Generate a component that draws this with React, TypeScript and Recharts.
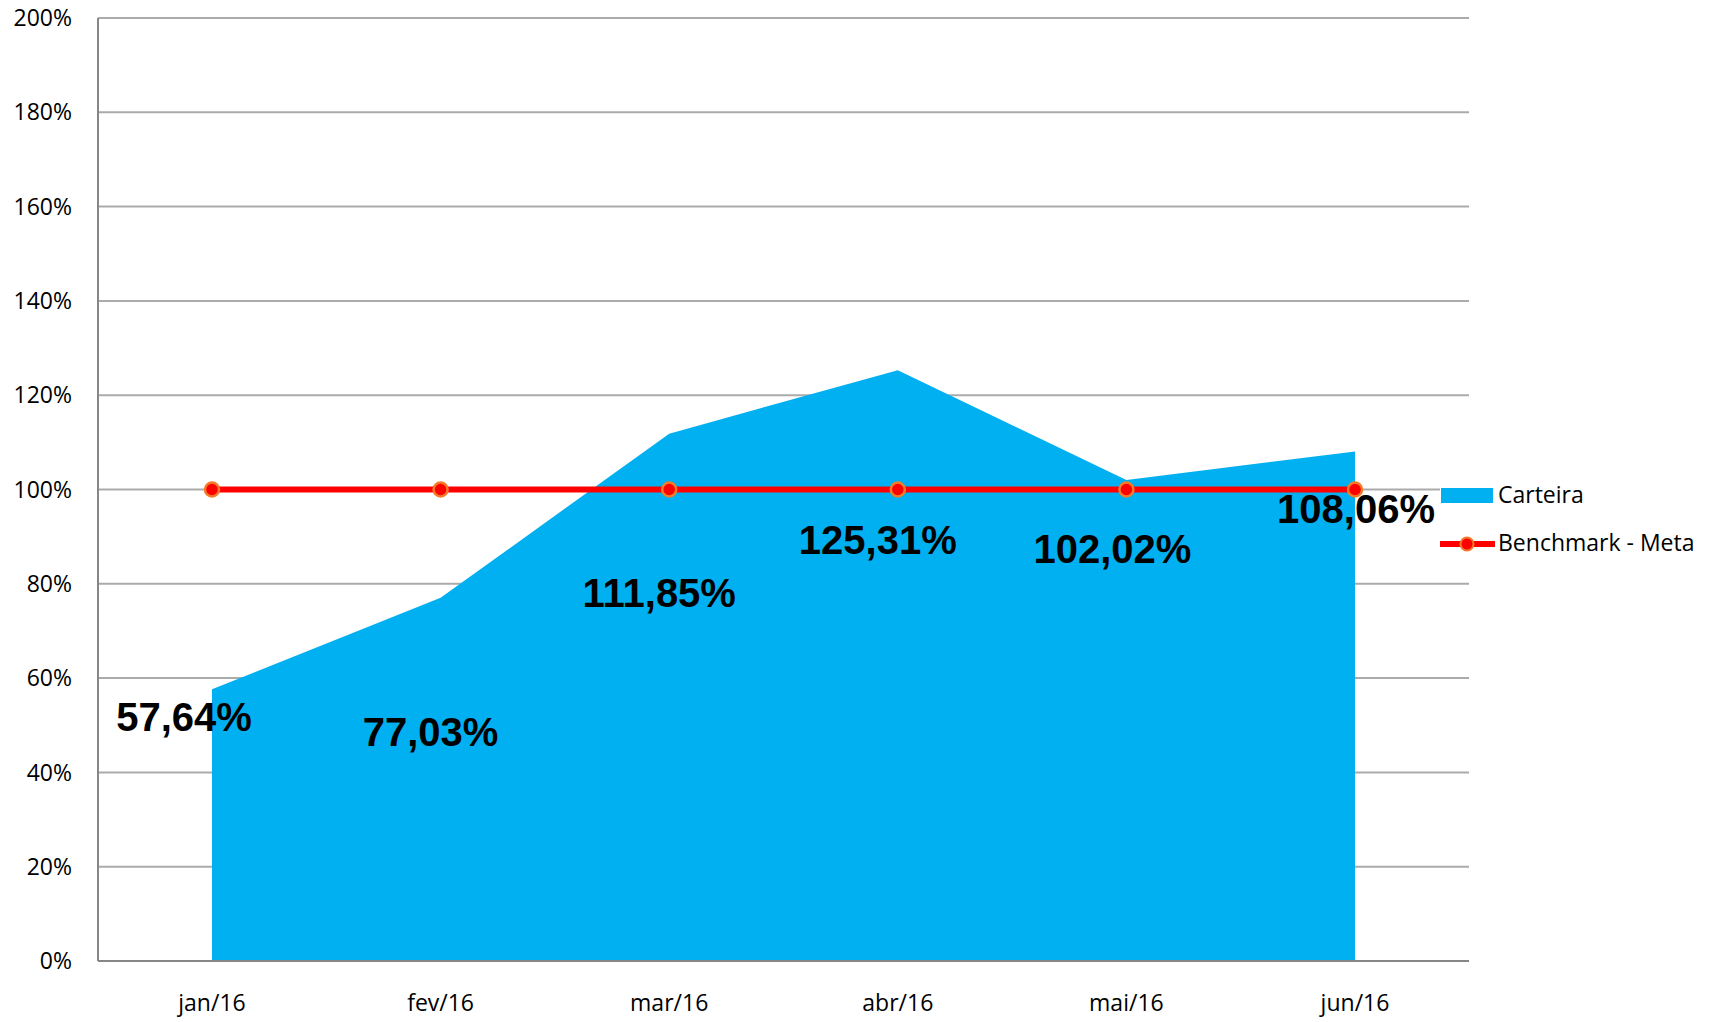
import React from "react"
import {
    ComposedChart,
    Area,
    Line,
    XAxis,
    YAxis,
    CartesianGrid,
    Legend,
    LabelList,
} from "recharts"

const months = ["jan/16", "fev/16", "mar/16", "abr/16", "mai/16", "jun/16"]
const carteira = [57.64, 77.03, 111.85, 125.31, 102.02, 108.06]
const benchmark = [100, 100, 100, 100, 100, 100]
const yTicks = [0, 20, 40, 60, 80, 100, 120, 140, 160, 180, 200]

// manual placement of the data labels (dx, dy from the point), like the original
const labelOffsets = [
    [-28, 28],
    [-10, 134],
    [-10, 159],
    [-20, 170],
    [-14, 69],
    [1, 58],
]

const data = months.map((m, i) => ({
    month: m,
    carteira: carteira[i],
    benchmark: benchmark[i],
}))

const FONT = "'Open Sans', sans-serif"
const BLUE = "#00B0F0"
const RED = "#FF0000"
const ORANGE = "#F47B2A"

const fmtLabel = (v: number) => v.toFixed(2).replace(".", ",") + "%"

function DataLabel(props: any) {
    const { x, y, value, index } = props
    const [dx, dy] = labelOffsets[index] || [0, 0]
    return (
        <text
            x={x + dx}
            y={y + dy + 14}
            textAnchor="middle"
            fontFamily="'Liberation Sans', Arial, sans-serif"
            fontWeight="bold"
            fontSize={40}
            fill="#000"
        >
            {fmtLabel(value)}
        </text>
    )
}

function LegendBox() {
    return (
        <svg width={273} height={95} style={{ display: "block", background: "#fff" }}>
            <rect x={1} y={16} width={52} height={15} fill={BLUE} />
            <text x={58} y={22.5} dy="0.35em" fontFamily={FONT} fontSize={23} fill="#000">
                Carteira
            </text>
            <line x1={0} y1={72} x2={55} y2={72} stroke={RED} strokeWidth={6} />
            <circle cx={27} cy={72} r={6.5} fill={RED} stroke={ORANGE} strokeWidth={2} />
            <text x={58} y={71} dy="0.35em" fontFamily={FONT} fontSize={23} fill="#000">
                Benchmark - Meta
            </text>
        </svg>
    )
}

export default function App() {
    return (
        <div style={{ position: "absolute", left: 0, top: 0, width: 1713, height: 1022, background: "#fff" }}>
            <ComposedChart
                width={1713}
                height={1022}
                data={data}
                margin={{ top: 18, right: 244, bottom: 0, left: 0 }}
            >
                <CartesianGrid vertical={false} stroke="#ABABAB" strokeWidth={2} />
                <XAxis
                    dataKey="month"
                    height={61}
                    padding={{ left: 114, right: 114 }}
                    tickLine={false}
                    tickSize={0}
                    tickMargin={34}
                    axisLine={{ stroke: "#868686", strokeWidth: 2 }}
                    tick={{ fontFamily: FONT, fontSize: 23, fill: "#000" }}
                />
                <YAxis
                    width={98}
                    domain={[0, 200]}
                    ticks={yTicks}
                    tickFormatter={(v: number) => `${v}%`}
                    tickLine={false}
                    tickSize={0}
                    tickMargin={26}
                    axisLine={{ stroke: "#868686", strokeWidth: 2 }}
                    tick={{ fontFamily: FONT, fontSize: 23, fill: "#000" }}
                    interval={0}
                />
                <Area
                    type="linear"
                    dataKey="carteira"
                    name="Carteira"
                    fill={BLUE}
                    fillOpacity={1}
                    stroke="none"
                    isAnimationActive={false}
                >
                    <LabelList dataKey="carteira" content={DataLabel} />
                </Area>
                <Line
                    type="linear"
                    dataKey="benchmark"
                    name="Benchmark - Meta"
                    stroke={RED}
                    strokeWidth={6}
                    dot={{ r: 7, fill: RED, stroke: ORANGE, strokeWidth: 2.5 }}
                    activeDot={false}
                    isAnimationActive={false}
                />
                <Legend
                    layout="horizontal"
                    align="center"
                    verticalAlign="middle"
                    content={() => <LegendBox />}
                    wrapperStyle={{ left: 1440, top: 472, width: 273, height: 95 }}
                />
            </ComposedChart>
        </div>
    )
}
